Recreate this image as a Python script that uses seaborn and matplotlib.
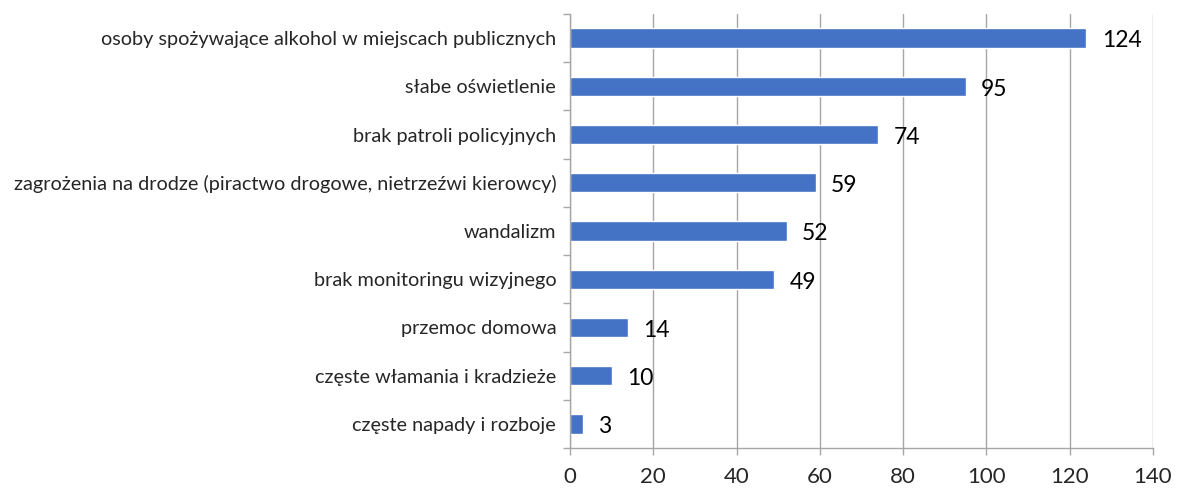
import matplotlib
matplotlib.use("Agg")
import matplotlib.pyplot as plt
import seaborn as sns
import pandas as pd
import numpy as np

categories = [
    "osoby spożywające alkohol w miejscach publicznych",
    "słabe oświetlenie",
    "brak patroli policyjnych",
    "zagrożenia na drodze (piractwo drogowe, nietrzeźwi kierowcy)",
    "wandalizm",
    "brak monitoringu wizyjnego",
    "przemoc domowa",
    "częste włamania i kradzieże",
    "częste napady i rozboje",
]
values = [124, 95, 74, 59, 52, 49, 14, 10, 3]
x_ticks = [0, 20, 40, 60, 80, 100, 120, 140]

sns.set_theme(style="white")
plt.rcParams['font.family'] = ['Lato', 'DejaVu Sans']

df = pd.DataFrame({"cat": categories, "val": values})

fig = plt.figure(figsize=(11.77, 4.92), dpi=100)
ax = fig.add_axes([0.4843, 0.0894, 0.4953, 0.8821])

sns.barplot(data=df, x="val", y="cat", orient="h", color="#4472C4",
            saturation=1, width=0.4, ax=ax, zorder=3)

ax.set_xlim(0, 140)
ax.set_ylim(len(categories) - 0.5, -0.5)
ax.set_xticks(x_ticks)
ax.set_xticklabels([str(t) for t in x_ticks], fontsize=16)
ax.set_xlabel("")
ax.set_ylabel("")
ax.tick_params(axis="y", labelsize=14.3, length=0, pad=10)
ax.tick_params(axis="x", length=5, color="#A6A6A6", width=1, pad=9, bottom=True)
ax.set_yticks(np.arange(-0.5, len(categories) + 0.5, 1), minor=True)
ax.tick_params(axis="y", which="minor", length=5, color="#A6A6A6", width=1, left=True)

ax.grid(axis="x", color="#A6A6A6", linewidth=1, zorder=0)
ax.grid(axis="y", visible=False)
for s in ["top", "right"]:
    ax.spines[s].set_visible(False)
for s in ["left", "bottom"]:
    ax.spines[s].set_color("#A6A6A6")
    ax.spines[s].set_linewidth(1)
    ax.spines[s].set_zorder(4)

for i, v in enumerate(values):
    ax.annotate(str(v), xy=(v, i), xytext=(11, -2), textcoords="offset points",
                ha="left", va="center", fontsize=16.5, color="black")

fig.savefig("out.png", dpi=100)
